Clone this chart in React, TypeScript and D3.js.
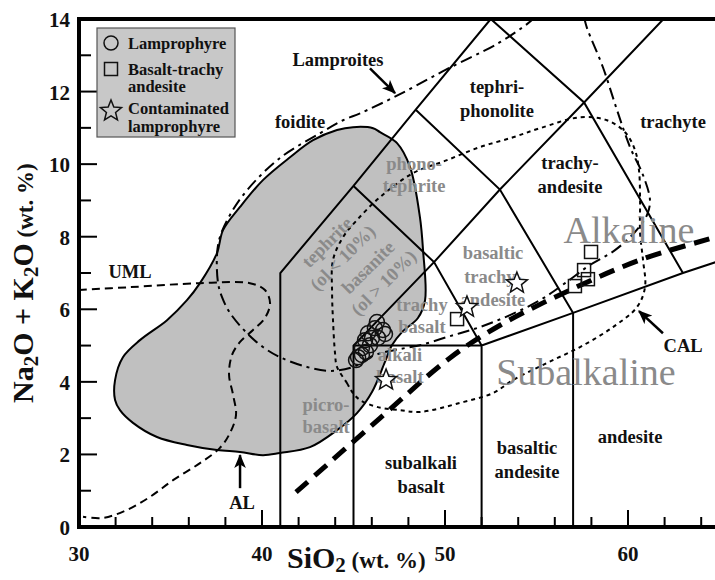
import React from "react";
import * as d3 from "d3";

const W = 715;
const H = 580;

// ---- data (SiO2 wt.%, Na2O+K2O wt.%) ----
const lamprophyre: [number, number][] = [
  [46.28, 5.65], [46.61, 5.43], [46.72, 5.32], [46.17, 5.48], [45.79, 5.34],
  [46.01, 5.21], [45.63, 5.15], [46.34, 5.21], [45.9, 5.01], [45.46, 4.93],
  [45.68, 4.82], [45.25, 4.68], [45.46, 4.74], [45.14, 4.6],
];
const basaltTrachyAndesite: [number, number][] = [
  [50.66, 5.73], [57.98, 7.58], [57.6, 7.08], [57.81, 6.83], [57.1, 6.64],
];
const contaminated: [number, number][] = [
  [53.93, 6.72], [51.2, 6.06], [46.78, 4.05],
];

// TAS boundaries
const tasLines: [number, number][][] = [
  [[41, 0], [41, 7], [45, 9.4], [48.4, 11.5], [52.5, 14]],
  [[45, 9.4], [49.4, 7.3], [52, 5]],
  [[45, 0], [45, 5], [49.4, 7.3], [53, 9.3], [57.6, 11.7], [61.94, 14]],
  [[45, 5], [52, 5]],
  [[48.4, 11.5], [53, 9.3], [57, 5.9]],
  [[52.5, 14], [57.6, 11.7], [63, 7]],
  [[52, 0], [52, 5], [57, 5.9], [63, 7], [69, 8]],
  [[57, 0], [57, 5.9]],
];

// grey lamprophyre field
const greyField: [number, number][] = [
  [46.07, 10.99], [44.97, 11.02], [44.1, 10.94], [42.79, 10.66], [41.53, 10.19],
  [40.05, 9.56], [38.8, 8.82], [37.87, 8.18], [37.54, 7.55], [36.61, 6.72],
  [35.9, 6.25], [34.81, 5.7], [33.33, 5.15], [32.4, 4.68], [31.97, 4.05],
  [31.97, 3.5], [32.24, 3.22], [32.95, 2.87], [34.26, 2.48], [35.9, 2.26],
  [37.54, 2.12], [38.8, 2.07], [40.05, 1.98], [40.98, 2.04], [42.62, 2.2],
  [44.1, 2.67], [45.19, 3.14], [46.01, 3.72], [46.72, 4.55], [47.1, 5.01],
  [47.65, 5.37], [48.52, 5.76], [48.91, 6.25], [48.8, 7.63], [48.63, 8.54],
  [48.09, 9.92], [47.38, 10.58], [46.45, 10.88],
];

// UML / AL dashed curve
const umlAl: [number, number][] = [
  [30, 6.53], [32.79, 6.61], [36.61, 6.72], [39.34, 6.72], [40.16, 6.53],
  [40.44, 6.17], [40.16, 5.76], [39.51, 5.43], [38.8, 5.1], [38.36, 4.74],
  [38.2, 4.19], [38.42, 3.64], [38.58, 3.09], [38.25, 2.59], [37.7, 2.18],
  [36.61, 1.76], [35.14, 1.29], [33.88, 0.83], [32.62, 0.47], [31.31, 0.25],
  [30.22, 0.28],
];

// lamproite field (dash-dot)
const lamproite: [number, number][] = [
  [54.92, 14.05], [54.48, 13.86], [52.9, 13.33], [50.0, 12.59], [47.43, 11.9],
  [45.36, 11.4], [44.43, 11.21], [43.17, 10.85], [40.98, 10.17], [39.18, 9.28],
  [38.25, 8.6], [37.7, 7.99], [37.54, 7.49], [37.6, 6.72], [37.81, 6.34],
  [38.25, 5.9], [39.18, 5.34], [40.05, 4.96], [40.98, 4.68], [42.46, 4.41],
  [43.72, 4.3], [44.97, 4.41], [46.17, 4.74], [47.27, 4.88], [48.63, 5.01],
  [50.27, 5.26], [51.91, 5.51], [53.55, 5.84], [55.19, 6.25], [56.56, 6.72],
  [57.92, 7.22], [59.29, 7.63], [60.38, 8.13], [61.04, 8.6], [61.2, 9.01],
  [60.82, 9.7], [60.11, 10.47], [59.4, 11.49], [58.63, 12.67], [57.76, 13.75],
  [57.6, 14.05],
];

// CAL dotted loop
const cal: [number, number][] = [
  [44.1, 4.41], [44.64, 3.97], [44.97, 3.69], [45.36, 3.5], [46.28, 3.31],
  [47.54, 3.22], [48.63, 3.17], [50.82, 3.42], [52.62, 3.69], [53.72, 4.05],
  [55.57, 4.52], [57.38, 4.96], [59.18, 5.51], [60.49, 6.06], [60.93, 6.61],
  [60.82, 7.36], [60.66, 8.1], [60.66, 9.01], [60.6, 9.83], [60.38, 10.39],
  [59.84, 10.88], [58.85, 11.21], [57.38, 11.29], [55.19, 10.99], [53.72, 10.74],
  [51.91, 10.47], [50.11, 10.11], [48.25, 9.75], [46.45, 9.09], [45.19, 8.46],
  [44.43, 7.99], [43.88, 7.36], [43.83, 6.45], [43.88, 5.7], [43.99, 4.79],
];

// alkaline / subalkaline divide
const divide: [number, number][] = [
  [41.86, 0.96], [46.45, 3.0], [50.27, 4.66], [53.01, 5.56], [56.83, 6.53],
  [60.66, 7.36], [64.75, 7.99], [66, 8.2],
];

const arrows: [number, number][][] = [
  [[45.9, 12.64], [47.27, 11.96]],
  [[38.8, 1.07], [38.8, 1.98]],
  [[61.91, 5.34], [60.6, 5.95]],
];

const blackLabels: { lines: string[]; at: [number, number] }[] = [
  { lines: ["foidite"], at: [42.08, 11.16] },
  { lines: ["Lamproites"], at: [44.15, 12.87] },
  { lines: ["tephri-", "phonolite"], at: [52.84, 11.79] },
  { lines: ["trachyte"], at: [62.46, 11.16] },
  { lines: ["trachy-", "andesite"], at: [56.83, 9.7] },
  { lines: ["UML"], at: [32.79, 7.02] },
  { lines: ["AL"], at: [38.91, 0.66] },
  { lines: ["CAL"], at: [63.01, 4.98] },
  { lines: ["subalkali", "basalt"], at: [48.69, 1.43] },
  { lines: ["basaltic", "andesite"], at: [54.48, 1.85] },
  { lines: ["andesite"], at: [60.11, 2.48] },
];

const greyLabels: { lines: string[]; at: [number, number]; rot?: number }[] = [
  { lines: ["phono-", "tephrite"], at: [48.31, 9.7] },
  { lines: ["basaltic", "trachy-", "andesite"], at: [52.62, 6.89] },
  { lines: ["trachy", "basalt"], at: [48.74, 5.81] },
  { lines: ["alkali", "basalt"], at: [47.54, 4.44] },
  { lines: ["picro-", "basalt"], at: [43.5, 3.06] },
  { lines: ["tephrite", "(ol < 10%)"], at: [43.99, 7.63], rot: -45 },
  { lines: ["basanite", "(ol > 10%)"], at: [46.23, 6.94], rot: -45 },
];

const seriesLabels: { text: string; at: [number, number] }[] = [
  { text: "Alkaline", at: [60.05, 7.82] },
  { text: "Subalkaline", at: [57.7, 3.91] },
];

const xMajor = [30, 40, 50, 60];
const xMinor = d3.range(32, 66, 2);
const yMajor = d3.range(0, 15, 2);
const yMinor = d3.range(1, 14, 1);

const FONT = "'Liberation Serif', 'Times New Roman', serif";
const GREY = "#8a8a8a";

const starPath = (R: number, r: number) => {
  const pts = d3.range(10).map((i) => {
    const a = -Math.PI / 2 + (i * Math.PI) / 5;
    const rad = i % 2 === 0 ? R : r;
    return [rad * Math.cos(a), rad * Math.sin(a)];
  });
  return "M" + pts.map((p) => p.map((v) => v.toFixed(2)).join(",")).join("L") + "Z";
};

export default function App() {
  const x = d3.scaleLinear().domain([30, 65]).range([79, 79 + 35 * 18.3]);
  const y = d3.scaleLinear().domain([0, 14]).range([527, 19]);

  const straight = d3
    .line<[number, number]>()
    .x((d) => x(d[0]))
    .y((d) => y(d[1]));
  const smooth = d3
    .line<[number, number]>()
    .x((d) => x(d[0]))
    .y((d) => y(d[1]))
    .curve(d3.curveCatmullRom.alpha(0.5));
  const smoothClosed = d3
    .line<[number, number]>()
    .x((d) => x(d[0]))
    .y((d) => y(d[1]))
    .curve(d3.curveCatmullRomClosed.alpha(0.5));

  const star = starPath(11, 4.8);
  const x0 = x(30);
  const yTop = y(14);
  const yBot = y(0);

  return (
    <svg
      width={W}
      height={H}
      style={{ position: "absolute", left: 0, top: 0, background: "#fff" }}
      fontFamily={FONT}
      fontWeight="bold"
    >
      <defs>
        <clipPath id="plot">
          <rect x={x0} y={yTop} width={W - x0} height={yBot - yTop} />
        </clipPath>
        <marker
          id="head"
          viewBox="0 0 12 10"
          refX="11"
          refY="5"
          markerWidth="14"
          markerHeight="12"
          markerUnits="userSpaceOnUse"
          orient="auto"
        >
          <path d="M0,0 L12,5 L0,10 L3,5 Z" fill="#000" />
        </marker>
      </defs>

      <g clipPath="url(#plot)">
        <path d={smoothClosed(greyField) ?? ""} fill="#c0c0c0" stroke="#000" strokeWidth={2} />
        {tasLines.map((l, i) => (
          <path key={i} d={straight(l) ?? ""} fill="none" stroke="#000" strokeWidth={2} />
        ))}
        <path d={smooth(umlAl) ?? ""} fill="none" stroke="#000" strokeWidth={2} strokeDasharray="8,5" />
        <path d={smooth(lamproite) ?? ""} fill="none" stroke="#000" strokeWidth={2} strokeDasharray="12,5,3,5" />
        <path d={smoothClosed(cal) ?? ""} fill="none" stroke="#000" strokeWidth={2} strokeDasharray="4,4" />
        <path d={smooth(divide) ?? ""} fill="none" stroke="#000" strokeWidth={5} strokeDasharray="16,9" />
      </g>

      {/* labels */}
      {greyLabels.map((lb, i) => {
        const gap = lb.lines.length === 3 ? 23.5 : 22;
        const off = ((lb.lines.length - 1) * gap) / 2;
        return (
          <text
            key={"g" + i}
            transform={`translate(${x(lb.at[0])},${y(lb.at[1])}) rotate(${lb.rot ?? 0})`}
            fill={GREY}
            fontSize={18.5}
            textAnchor="middle"
            dominantBaseline="central"
          >
            {lb.lines.map((t, j) => (
              <tspan key={j} x={0} y={j * gap - off}>
                {t}
              </tspan>
            ))}
          </text>
        );
      })}
      {seriesLabels.map((s, i) => (
        <text
          key={"s" + i}
          x={x(s.at[0])}
          y={y(s.at[1])}
          fill={GREY}
          fontSize={38}
          fontWeight="normal"
          textAnchor="middle"
        >
          {s.text}
        </text>
      ))}
      {blackLabels.map((lb, i) => {
        const gap = 23.5;
        const off = ((lb.lines.length - 1) * gap) / 2;
        return (
          <text
            key={"b" + i}
            transform={`translate(${x(lb.at[0])},${y(lb.at[1])})`}
            fill="#111"
            fontSize={18.5}
            textAnchor="middle"
            dominantBaseline="central"
          >
            {lb.lines.map((t, j) => (
              <tspan key={j} x={0} y={j * gap - off}>
                {t}
              </tspan>
            ))}
          </text>
        );
      })}
      {arrows.map((a, i) => (
        <line
          key={"a" + i}
          x1={x(a[0][0])}
          y1={y(a[0][1])}
          x2={x(a[1][0])}
          y2={y(a[1][1])}
          stroke="#000"
          strokeWidth={2.5}
          markerEnd="url(#head)"
        />
      ))}

      {/* data */}
      {lamprophyre.map((d, i) => (
        <circle key={"c" + i} cx={x(d[0])} cy={y(d[1])} r={7.5} fill="none" stroke="#111" strokeWidth={1.5} />
      ))}
      {basaltTrachyAndesite.map((d, i) => (
        <rect
          key={"r" + i}
          x={x(d[0]) - 6.5}
          y={y(d[1]) - 6.5}
          width={13}
          height={13}
          fill="none"
          stroke="#111"
          strokeWidth={1.5}
        />
      ))}
      {contaminated.map((d, i) => (
        <path
          key={"st" + i}
          d={star}
          transform={`translate(${x(d[0])},${y(d[1])})`}
          fill="#fff"
          stroke="#111"
          strokeWidth={1.5}
        />
      ))}

      {/* axes frame */}
      <line x1={x0} x2={W} y1={yTop} y2={yTop} stroke="#000" strokeWidth={4} />
      <line x1={x0} x2={W} y1={yBot} y2={yBot} stroke="#000" strokeWidth={4} />
      <line x1={x0} x2={x0} y1={yTop - 2} y2={yBot + 2} stroke="#000" strokeWidth={4} />
      {xMinor.map((v) => (
        <line key={"xm" + v} x1={x(v)} x2={x(v)} y1={yBot} y2={yBot - (v % 10 === 0 ? 17 : 10)} stroke="#000" strokeWidth={2} />
      ))}
      {yMinor.map((v) => (
        <line key={"ym" + v} x1={x0} x2={x0 + (v % 2 === 0 ? 18 : 12)} y1={y(v)} y2={y(v)} stroke="#000" strokeWidth={2} />
      ))}
      {xMajor.map((v) => (
        <text key={"xt" + v} x={x(v)} y={yBot + 27} fontSize={21} textAnchor="middle" dominantBaseline="central" fill="#111">
          {v}
        </text>
      ))}
      {yMajor.map((v) => (
        <text key={"yt" + v} x={x0 - 9} y={y(v) + 1} fontSize={21} textAnchor="end" dominantBaseline="central" fill="#111">
          {v}
        </text>
      ))}

      {/* axis titles */}
      <text x={287} y={568} fill="#111" fontSize={30}>
        SiO
        <tspan fontSize={21} dy={4}>2</tspan>
        <tspan fontSize={23} dy={-4}> (wt. %)</tspan>
      </text>
      <text transform="translate(33,403) rotate(-90)" fill="#111" fontSize={30}>
        Na
        <tspan fontSize={21} dy={5}>2</tspan>
        <tspan dy={-5}>O + K</tspan>
        <tspan fontSize={21} dy={5}>2</tspan>
        <tspan dy={-5}>O</tspan>
        <tspan fontSize={23}> (wt. %)</tspan>
      </text>

      {/* legend */}
      <g>
        <rect x={97} y={28} width={138} height={109} fill="#c8c8c8" stroke="#555" strokeWidth={1.2} />
        <circle cx={111} cy={43} r={7} fill="none" stroke="#111" strokeWidth={1.5} />
        <rect x={104.5} y={62.5} width={13} height={13} fill="none" stroke="#111" strokeWidth={1.5} />
        <path d={starPath(11, 4.8)} transform="translate(111,111)" fill="none" stroke="#111" strokeWidth={1.5} />
        <g fontSize={16.5} fill="#111" dominantBaseline="central">
          <text x={128} y={43}>Lamprophyre</text>
          <text x={128} y={69}>Basalt-trachy</text>
          <text x={128} y={86}>andesite</text>
          <text x={128} y={108}>Contaminated</text>
          <text x={128} y={126}>lamprophyre</text>
        </g>
      </g>
    </svg>
  );
}
